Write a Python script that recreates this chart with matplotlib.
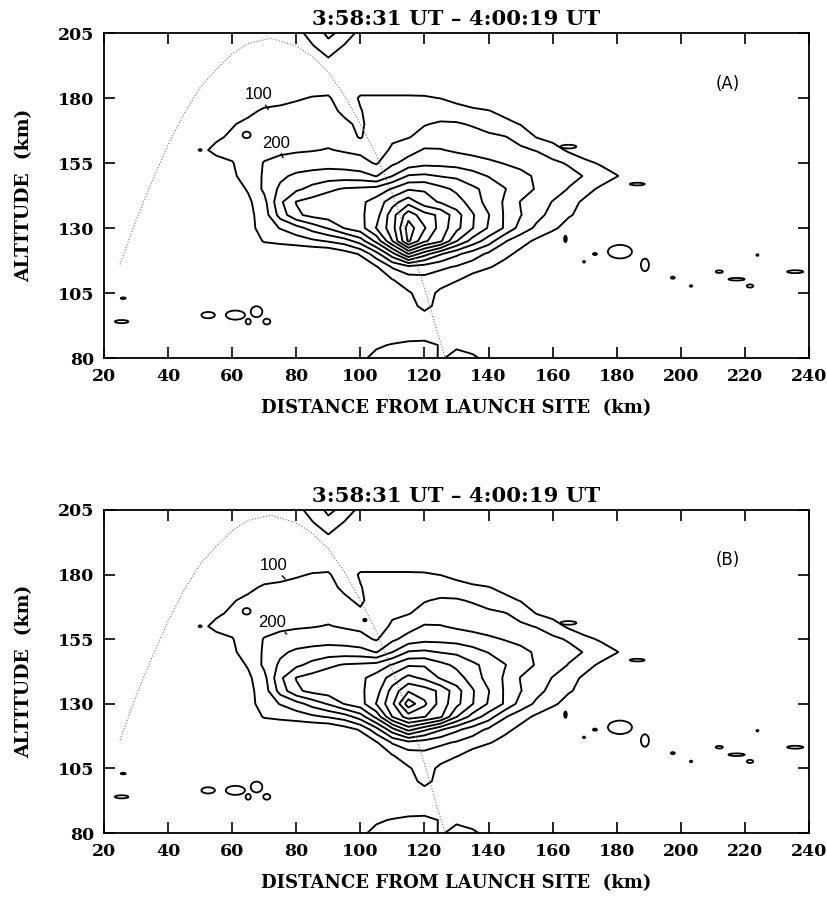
import numpy as np
import matplotlib
matplotlib.use("Agg")
import matplotlib.pyplot as plt
from matplotlib.patches import Ellipse

# ---------------- data ----------------
TITLE = "3:58:31 UT \u2013 4:00:19 UT"
X_LABEL = "DISTANCE FROM LAUNCH SITE  (km)"
Y_LABEL = "ALTITUDE  (km)"
x_ticks = [20, 40, 60, 80, 100, 120, 140, 160, 180, 200, 220, 240]
y_ticks = [80, 105, 130, 155, 180, 205]
contour_levels = [100, 200, 300, 400, 500, 600, 700, 800, 900, 1000, 1100]

# grid of the contoured quantity (units of 100)
grid_x_km = [50, 55, 60, 65, 70, 75, 80, 85, 90, 95, 100, 105, 110, 115, 120,
             125, 130, 135, 140, 145, 150, 155, 160, 165, 170, 175, 180, 185, 190]
grid_y_km = [205, 200, 195, 190, 185, 180, 175, 170, 165, 160, 155, 150, 145,
             140, 135, 130, 125, 120, 115, 110, 105, 100, 95, 90, 85, 80]
grid_rows = [
    "0 0 0 0 0 0 0.5 1.6 2.15 1.8 0.6 0 0 0 0 0 0 0 0 0 0 0 0 0 0 0 0 0 0",
    "0 0 0 0 0 0 0 0.9 1.8 0.9 0 0 0 0 0 0 0 0 0 0 0 0 0 0 0 0 0 0 0",
    "0 0 0 0 0 0 0 0 0.9 0 0 0 0 0 0 0 0 0 0 0 0 0 0 0 0 0 0 0 0",
    "0 0 0 0 0 0 0 0 0 0 0 0 0 0 0 0 0 0 0 0 0 0 0 0 0 0 0 0 0",
    "0 0 0 0 0 0 0.6 0.6 0.6 0.6 0.6 0.6 0.6 0.6 0.6 0.6 0 0 0 0 0 0 0 0 0 0 0 0 0",
    "0 0 0.2 0.3 0.4 0.6 0.9 1.05 1.1 0.5 1.1 1.1 1.1 1.1 1.08 0.98 0.7 0.4 0.2 0 0 0 0 0 0 0 0 0 0",
    "0 0 0.3 0.7 1.2 1.3 1.3 1.3 1.3 0.8 0.95 1.4 1.5 1.6 1.7 1.6 1.4 1.2 1.05 0.7 0.3 0 0 0 0 0 0 0 0",
    "0 0.3 0.9 1.3 1.4 1.4 1.5 1.5 1.5 1.2 0.8 1.6 1.8 1.9 1.95 2.1 2.1 1.9 1.6 1.3 0.95 0.5 0.2 0 0 0 0 0 0",
    "0.2 0.8 1.2 1.4 1.5 1.6 1.7 1.7 1.7 1.5 0.9 1.7 1.9 1.95 2.3 2.5 2.5 2.4 2.2 2.05 1.7 0.95 0.6 0.3 0 0 0 0 0",
    "0.7 1.3 1.3 1.5 1.7 1.8 1.9 1.95 2.05 1.9 1.8 1.7 2.1 2.6 3.1 3.05 2.85 2.7 2.5 2.3 2.15 1.95 1.5 0.8 0.3 0 0 0 0",
    "0 0.6 0.95 1.5 2.05 2.3 2.4 2.5 2.6 2.5 2.3 1.9 2.8 3.4 3.7 3.7 3.6 3.4 3.2 2.95 2.8 2.5 2.2 1.9 1.3 0.85 0.5 0.2 0",
    "0 0.3 0.8 1.5 2.1 2.8 3.2 3.4 3.5 3.5 3.4 2.95 4.0 5.1 5.2 4.95 4.8 4.4 3.95 3.6 3.2 2.9 2.6 2.3 1.95 1.6 1.05 0.5 0",
    "0 0 0.5 1.1 2.2 3.2 3.8 4.3 4.8 5.1 5.2 5.4 6.1 6.9 6.9 6.3 5.8 5.2 4.7 4.05 3.5 2.9 2.5 1.95 1.4 0.8 0.3 0 0",
    "0 0 0.2 0.8 1.7 3.8 5.05 5.4 5.6 5.7 5.8 6.4 7.4 8.3 7.8 6.9 6.4 5.6 4.6 3.9 2.95 2.6 1.95 1.4 0.8 0.3 0 0 0",
    "0 0 0 0.7 1.5 3.4 4.8 5.3 5.5 5.6 5.8 6.6 8.4 9.9 9.5 8.8 7.4 6.1 5.05 3.9 3.05 2.3 1.7 1.1 0.7 0.2 0 0 0",
    "0 0 0 0.6 1.5 2.05 2.6 3.4 4.1 5.05 5.6 7.05 8.8 11.6 10.2 8.6 7.3 6.05 4.9 3.9 2.6 1.8 1.2 0.6 0.2 0 0 0 0",
    "0 0 0 0.3 1.1 1.3 1.5 1.8 2.1 2.5 3.5 5.3 8.05 9.5 9.05 8.2 6.05 4.6 3.5 2.1 1.4 0.8 0.3 0 0 0 0 0 0",
    "0 0 0 0 0 0 0 0 0 0.5 1.1 2.6 4.6 6.3 5.2 4.1 3.2 2.5 1.8 1.3 0.7 0.2 0 0 0 0 0 0 0",
    "0 0 0 0 0 0 0 0 0 0 0.3 0.9 2.1 2.7 2.5 2.2 1.9 1.5 1.1 0.6 0.1 0 0 0 0 0 0 0 0",
    "0 0 0 0 0 0 0 0 0 0 0 0 0.95 1.5 1.7 1.4 1.1 0.5 0 0 0 0 0 0 0 0 0 0 0",
    "0 0 0 0 0 0 0 0 0 0 0 0 0 0.9 1.4 0.8 0 0 0 0 0 0 0 0 0 0 0 0 0",
    "0 0 0 0 0 0 0 0 0 0 0 0 0 0.2 1.6 0.3 0 0 0 0 0 0 0 0 0 0 0 0 0",
    "0 0 0 0 0 0 0 0 0 0 0 0 0 0 0 0 0 0 0 0 0 0 0 0 0 0 0 0 0",
    "0 0 0 0 0 0 0 0 0 0 0 0 0 0 0 0 0 0 0 0 0 0 0 0 0 0 0 0 0",
    "0 0 0 0 0 0 0 0 0 0 0.3 0.8 1.1 1.4 1.5 0.9 0.8 0.3 0 0 0 0 0 0 0 0 0 0 0",
    "0 0 0 0 0 0 0 0 0 0 0.7 1.4 1.6 1.7 1.7 0.85 1.4 1.3 0.5 0 0 0 0 0 0 0 0 0 0",
]
# panel A: elongated peak along the trajectory (x km, y km, value/100)
patch_a = [(110, 140, 7.6), (115, 140, 8.6), (120, 140, 7.4),
           (110, 135, 8.6), (115, 135, 10.6), (120, 135, 9.4),
           (110, 130, 8.6), (115, 130, 11.5), (120, 130, 10.1),
           (110, 125, 8.0), (115, 125, 11.2), (120, 125, 9.2),
           (110, 120, 4.6), (115, 120, 7.0), (120, 120, 5.4)]
# panel B: shallower notch in the 100 contour
patch_b = [(100, 165, 1.2)]

# rocket trajectory (dotted)
traj_x = [25, 30, 35, 40, 45, 50, 55, 60, 65, 72, 80, 85, 90, 95, 100, 105,
          110, 115, 120, 124, 126.5]
traj_y = [116, 133, 148, 162, 174, 184, 191, 197, 201, 203, 200, 196, 190,
          181, 170, 158, 143, 126, 107, 90, 80]

# small isolated contour islands: centre x, centre y, width, height (km)
isl_x = [64.5, 50, 26, 25.5, 52.5, 61, 67.6, 65, 70.8, 164.9, 186.4, 164,
         173.2, 169.8, 181, 188.8, 197.5, 203.2, 212, 217.4, 221.6, 223.9, 235.7]
isl_y = [165.8, 160, 103, 94, 96.5, 96.5, 97.8, 94, 94, 161.3, 146.9, 125.8,
         120, 117, 120.9, 115.8, 110.9, 107.7, 113.2, 110.3, 107.7, 119.6, 113.2]
isl_w = [2.5, 0.9, 1.5, 4.2, 4.2, 6.0, 3.6, 1.6, 2.2, 5.0, 4.6, 0.8,
         1.2, 0.6, 7.5, 2.5, 1.2, 0.7, 2.2, 5.0, 2.0, 0.6, 5.0]
isl_h = [2.5, 0.7, 0.6, 1.2, 2.4, 3.5, 4.2, 2.2, 2.2, 1.4, 1.0, 2.4,
         0.8, 0.6, 5.2, 4.8, 0.8, 0.6, 1.0, 1.0, 1.2, 0.6, 1.1]
isl_b_extra_x = [101.4]
isl_b_extra_y = [162.4]
isl_b_extra_w = [1.0]
isl_b_extra_h = [1.0]

# ---------------- figure ----------------
plt.rcParams['font.family'] = ['DejaVu Serif']
W, H = 827, 897
fig = plt.figure(figsize=(W / 100, H / 100), dpi=100)
ax_a = fig.add_axes([104 / W, 1 - 358 / H, 705 / W, 325 / H])
ax_b = fig.add_axes([104 / W, 1 - 833 / H, 705 / W, 323 / H])

base = np.array([[float(v) for v in r.split()] for r in grid_rows])
gx = np.array(grid_x_km, float)
gy = np.array(grid_y_km, float)


def field_with(patch):
    f = base.copy()
    for (px, py, v) in patch:
        f[grid_y_km.index(py), grid_x_km.index(px)] = v
    order = np.argsort(gy)
    return f[order] * 100.0, gy[order]


def draw(ax, patch, panel, lab100, lab100_to, lab200, lab200_to, extra):
    f, yy = field_with(patch)
    ax.contour(gx, yy, f, levels=contour_levels, colors='black',
               linewidths=1.35)
    ax.plot(traj_x, traj_y, color='0.45', lw=0.8, linestyle=(0, (1, 1.6)))
    xs = isl_x + extra[0]
    ys = isl_y + extra[1]
    ws = isl_w + extra[2]
    hs = isl_h + extra[3]
    for x, y, w, h in zip(xs, ys, ws, hs):
        small = w < 1.3 or h < 0.9
        ax.add_patch(Ellipse((x, y), w, h, facecolor='black' if small else 'none',
                             edgecolor='black', lw=1.3))
    for txt, pos, to in (("100", lab100, lab100_to), ("200", lab200, lab200_to)):
        ax.annotate(txt, xy=to, xytext=pos, ha='center', va='center',
                    fontsize=12, family='Liberation Sans',
                    arrowprops=dict(arrowstyle='-', lw=1.0, color='black',
                                    shrinkA=0, shrinkB=0))
    ax.text(214.5, 185.5, panel, ha='center', va='center', fontsize=12,
            family='DejaVu Sans')
    ax.set_xlim(20, 240)
    ax.set_ylim(80, 205)
    ax.set_xticks(x_ticks)
    ax.set_yticks(y_ticks)
    ax.tick_params(direction='in', length=8, width=1.2, top=True, right=True,
                   labelsize=12.5, pad=7)
    for lab in ax.get_xticklabels() + ax.get_yticklabels():
        lab.set_fontweight('bold')
    for s in ax.spines.values():
        s.set_linewidth(1.3)
    ax.set_title(TITLE, fontsize=15.3, fontweight='bold', pad=6)
    ax.set_xlabel(X_LABEL, fontsize=13, fontweight='bold', labelpad=10)
    ax.set_ylabel(Y_LABEL, fontsize=13.5, fontweight='bold', labelpad=18)


draw(ax_a, patch_a, "(A)", (68.2, 181.2), (71.3, 175.6), (73.7, 162.5),
     (75.9, 157.0), ([], [], [], []))
draw(ax_b, patch_b, "(B)", (72.9, 183.5), (76.5, 178.3), (72.6, 161.5),
     (77.0, 157.0), (isl_b_extra_x, isl_b_extra_y, isl_b_extra_w, isl_b_extra_h))

fig.savefig("out.png", dpi=100)
